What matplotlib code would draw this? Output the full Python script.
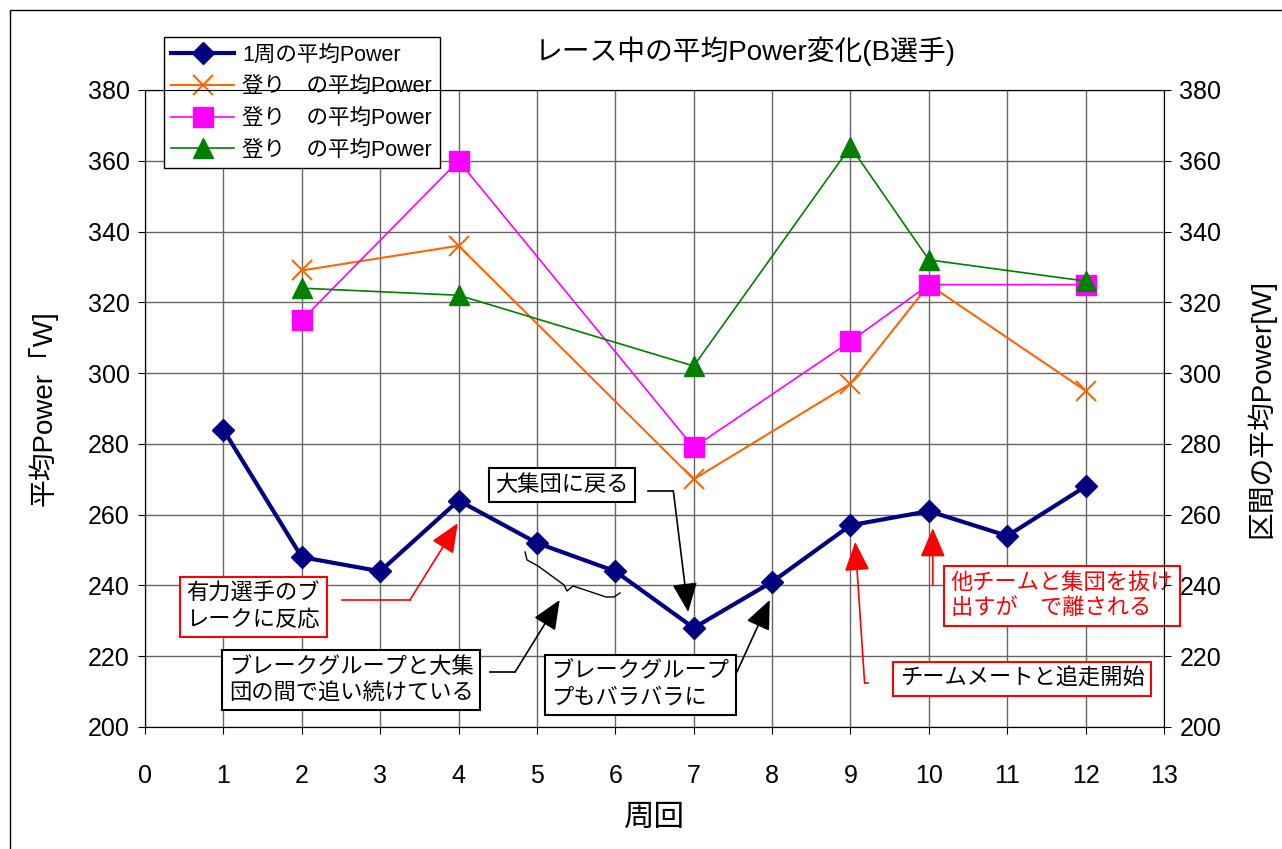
import matplotlib
matplotlib.use("Agg")
import matplotlib.pyplot as plt
from matplotlib.patches import Rectangle

plt.rcParams['font.family'] = ['Liberation Sans', 'Noto Sans CJK JP', 'DejaVu Sans']

laps = [1, 2, 3, 4, 5, 6, 7, 8, 9, 10, 11, 12]
lap_power = [284, 248, 244, 264, 252, 244, 228, 241, 257, 261, 254, 268]

climb_laps = [2, 4, 7, 9, 10, 12]
climb_a = [329, 336, 270, 297, 325, 295]
climb_b = [315, 360, 279, 309, 325, 325]
climb_c = [324, 322, 302, 364, 332, 326]

labels = ["1周の平均Power", "登り　の平均Power", "登り　の平均Power", "登り　の平均Power"]
title = "レース中の平均Power変化(B選手)"

fig = plt.figure(figsize=(12.82, 8.49), dpi=100)
fig.patches.append(Rectangle((0.008, -0.01), 1.0, 0.998, transform=fig.transFigure,
                             fill=False, edgecolor='black', lw=1))
ax = fig.add_axes([0.1131, 0.1437, 0.7949, 0.7503])

ax.plot(laps, lap_power, color='#000080', lw=3, marker='D', ms=11, label=labels[0], zorder=5)
ax.plot(climb_laps, climb_a, color='#FF6600', lw=1.5, marker='x', ms=14, mew=1.5, label=labels[1], zorder=4)
ax.plot(climb_laps, climb_b, color='#FF00FF', lw=1.2, marker='s', ms=14, label=labels[2], zorder=4)
ax.plot(climb_laps, climb_c, color='#008000', lw=1.2, marker='^', ms=15, label=labels[3], zorder=4)

ax.set_xlim(0, 13)
ax.set_ylim(200, 380)
ax.set_xticks(range(0, 14))
ax.set_yticks(range(200, 381, 20))
ax.grid(True, color='#666666', lw=1)
ax.set_axisbelow(True)
ax.tick_params(labelsize=18, direction='out', length=5)
ax.tick_params(axis='x', pad=22)
ax.tick_params(axis='y', pad=6)
for s in ax.spines.values():
    s.set_color('#333333')

ax2 = ax.twinx()
ax2.set_ylim(200, 380)
ax2.set_yticks(range(200, 381, 20))
ax2.tick_params(labelsize=18, direction='out', length=5, pad=6)
ax2.set_ylabel("区間の平均Power[W]", fontsize=20, labelpad=18)

ax.set_xlabel("周回", fontsize=22, labelpad=10)
ax.set_ylabel("平均Power「W]", fontsize=20, labelpad=22)
fig.text(0.581, 0.94, title, fontsize=20, ha='center', va='center')

leg = ax.legend(loc='upper left', bbox_to_anchor=(0.008, 1.1), fontsize=15.5,
                frameon=True, fancybox=False, edgecolor='black', framealpha=1,
                handlelength=2.9, borderpad=0.35, labelspacing=0.5, handletextpad=0.4)
leg.get_frame().set_linewidth(1)
leg.set_zorder(10)


def box(x, y, text, color, edge):
    ax.text(x, y, text, fontsize=16, ha='center', va='center', color=color, zorder=8,
            linespacing=1.3, multialignment='left',
            bbox=dict(boxstyle='square,pad=0.3', fc='white', ec=edge, lw=1.5))


def arrow(pts, color):
    xs = [p[0] for p in pts[:-1]]
    ys = [p[1] for p in pts[:-1]]
    ax.plot(xs, ys, color=color, lw=1.2, zorder=7, clip_on=False)
    ax.annotate('', xy=pts[-1], xytext=pts[-2], zorder=7,
                arrowprops=dict(arrowstyle='-|>,head_length=1.4,head_width=0.6',
                                mutation_scale=13, color=color, lw=1.2,
                                shrinkA=0, shrinkB=0))


box(5.32, 268.4, "大集団に戻る", 'black', 'black')
arrow([(6.42, 266.7), (6.74, 266.7), (6.93, 232.5)], 'black')

box(1.38, 234.0, "有力選手のブ\nレークに反応", 'black', 'red')
arrow([(2.51, 235.9), (3.38, 235.9), (3.99, 257.6)], 'red')

box(2.63, 213.3, "ブレークグループと大集\n団の間で追い続けている", 'black', 'black')
arrow([(4.40, 215.5), (4.72, 215.5), (5.29, 235.9)], 'black')

box(6.32, 211.9, "ブレークグループ\nプもバラバラに", 'black', 'black')
arrow([(7.55, 215.5), (7.97, 235.9)], 'black')

box(11.70, 237.0, "他チームと集団を抜け\n出すが　で離される", 'red', 'red')
arrow([(10.05, 240.1), (10.05, 256.2)], 'red')

box(11.19, 213.6, "チームメートと追走開始", 'black', 'red')
arrow([(9.22, 212.4), (9.18, 212.4), (9.06, 252.3)], 'red')

# curly brace under laps 5-6
brace_px = [(525, 552), (527, 560), (538, 566), (564, 585), (567, 591), (573, 586),
            (606, 597), (614, 597), (620, 593)]
bx = [(px - 145) / 78.38 for px, py in brace_px]
by = [380 - (py - 90) / 3.539 for px, py in brace_px]
ax.plot(bx, by, color='black', lw=1, zorder=6)

fig.savefig("out.png", dpi=100)
